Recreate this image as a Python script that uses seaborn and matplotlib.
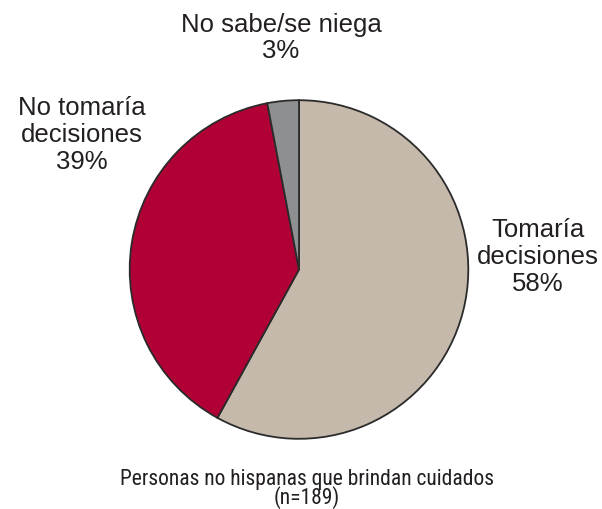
import matplotlib
matplotlib.use("Agg")
import matplotlib.pyplot as plt
import seaborn as sns

# Respuestas de personas cuidadoras no hispanas
categories = ["Tomaría\ndecisiones", "No tomaría\ndecisiones", "No sabe/se niega"]
shares = [58, 39, 3]
slice_colors = ["#C4B9AA", "#B00035", "#8E8F91"]
caption = "Personas no hispanas que brindan cuidados\n(n=189)"

sns.set_theme(style="white")
plt.rcParams["font.family"] = ["Liberation Sans", "DejaVu Sans"]

fig = plt.figure(figsize=(6.02, 5.10), dpi=100)
W, H = 602, 510
cx, cy, r = 299, 270.5, 171
ax = fig.add_axes([(cx - r) / W, (H - cy - r) / H, 2 * r / W, 2 * r / H])
ax.pie(shares, colors=slice_colors, startangle=90, counterclock=False,
       radius=1, wedgeprops=dict(edgecolor="#2b2b2b", linewidth=1.3))
ax.set_xlim(-1.01, 1.01)
ax.set_ylim(-1.01, 1.01)
ax.set_axis_off()

def label(x, y, name, value):
    fig.text(x / W, 1 - y / H, f"{name}\n{value}%", ha="center", va="center",
             fontsize=18.5, color="#231f20", linespacing=1.15)

label(538, 257, categories[0], shares[0])
label(82, 135, categories[1], shares[1])
label(281, 38, categories[2], shares[2])

fig.text(307 / W, 1 - 489 / H, caption, ha="center", va="center", fontsize=15.5,
         color="#231f20", linespacing=0.82, stretch="condensed",
         family=["Roboto Condensed", "Liberation Sans Narrow", "Roboto", "DejaVu Sans"])

fig.savefig("out.png", dpi=100)
